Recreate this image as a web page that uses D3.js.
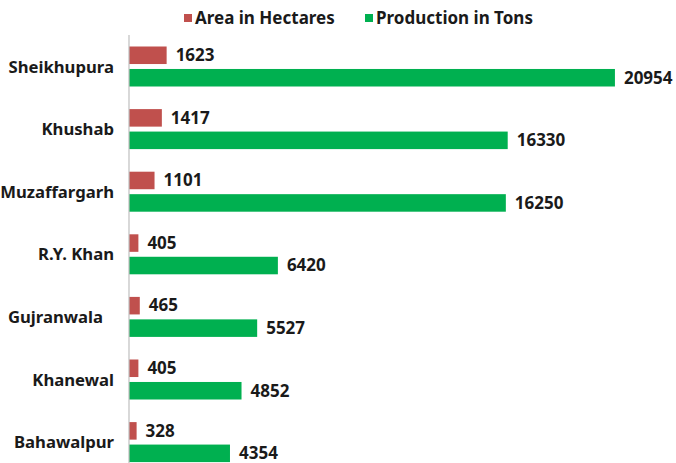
<!DOCTYPE html>
<html>
<head>
<meta charset="utf-8">
<script src="https://cdn.jsdelivr.net/npm/d3@7"></script>
<style>
  html, body { margin: 0; padding: 0; background: #ffffff; }
  svg { display: block; }
  text { font-family: "Noto Sans", "DejaVu Sans", sans-serif; font-weight: bold; fill: #1a1a1a; }
</style>
</head>
<body>
<script>
// Districts, top to bottom
const districts = ["Sheikhupura", "Khushab", "Muzaffargarh", "R.Y. Khan", "Gujranwala", "Khanewal", "Bahawalpur"];
// Area under cultivation (hectares)
const areaHectares = [1623, 1417, 1101, 405, 465, 405, 328];
// Production (tons)
const productionTons = [20954, 16330, 16250, 6420, 5527, 4852, 4354];

const seriesNames = ["Area in Hectares", "Production in Tons"];
const seriesColors = ["#C0504D", "#00B050"];

const width = 676, height = 463;

const svg = d3.select("body").append("svg")
  .attr("width", width)
  .attr("height", height);

const x = d3.scaleLinear().domain([0, 21000]).range([129, 616]);
const y = d3.scaleBand().domain(districts).range([35.2, 473.4]).padding(0);
const inner = d3.scaleBand().domain(seriesNames).range([-20, 20]).paddingInner(0.22);

const rows = districts.map((d, i) => ({
  district: d,
  values: [
    { series: seriesNames[0], value: areaHectares[i] },
    { series: seriesNames[1], value: productionTons[i] }
  ]
}));

const groups = svg.selectAll("g.row")
  .data(rows)
  .join("g")
  .attr("class", "row")
  .attr("transform", d => `translate(0,${y(d.district) + y.bandwidth() / 2})`);

groups.selectAll("rect")
  .data(d => d.values)
  .join("rect")
  .attr("x", x(0))
  .attr("y", d => inner(d.series))
  .attr("width", d => x(d.value) - x(0))
  .attr("height", inner.bandwidth())
  .attr("fill", (d, i) => seriesColors[i]);

groups.selectAll("text.val")
  .data(d => d.values)
  .join("text")
  .attr("class", "val")
  .attr("x", d => x(d.value) + 9)
  .attr("y", d => inner(d.series) + inner.bandwidth() / 2)
  .attr("dy", "0.34em")
  .attr("font-size", 17)
  .text(d => d.value);

// Category axis on the left
const yAxis = d3.axisLeft(y).tickSize(0).tickPadding(15);
const axisG = svg.append("g")
  .attr("transform", `translate(${x(0)},0)`)
  .call(yAxis);
axisG.select(".domain").remove();
axisG.selectAll(".tick text")
  .attr("font-size", 16.7)
  .attr("font-family", null)
  .attr("fill", "#1a1a1a")
  .attr("dy", "0.36em");
axisG.selectAll(".tick")
  .filter(d => d === "Gujranwala")
  .select("text")
  .attr("dx", -11);

svg.append("line")
  .attr("x1", x(0)).attr("x2", x(0))
  .attr("y1", 35).attr("y2", height)
  .attr("stroke", "#bfbfbf")
  .attr("stroke-width", 1.2);

// Legend
const legendX = [184, 365];
const legend = svg.selectAll("g.legend")
  .data(seriesNames)
  .join("g")
  .attr("class", "legend")
  .attr("transform", (d, i) => `translate(${legendX[i]},18)`);
legend.append("rect")
  .attr("x", 0).attr("y", -4)
  .attr("width", 8).attr("height", 8)
  .attr("fill", (d, i) => seriesColors[i]);
legend.append("text")
  .attr("x", 11)
  .attr("dy", "0.36em")
  .attr("font-size", 17)
  .text(d => d);
</script>
</body>
</html>
